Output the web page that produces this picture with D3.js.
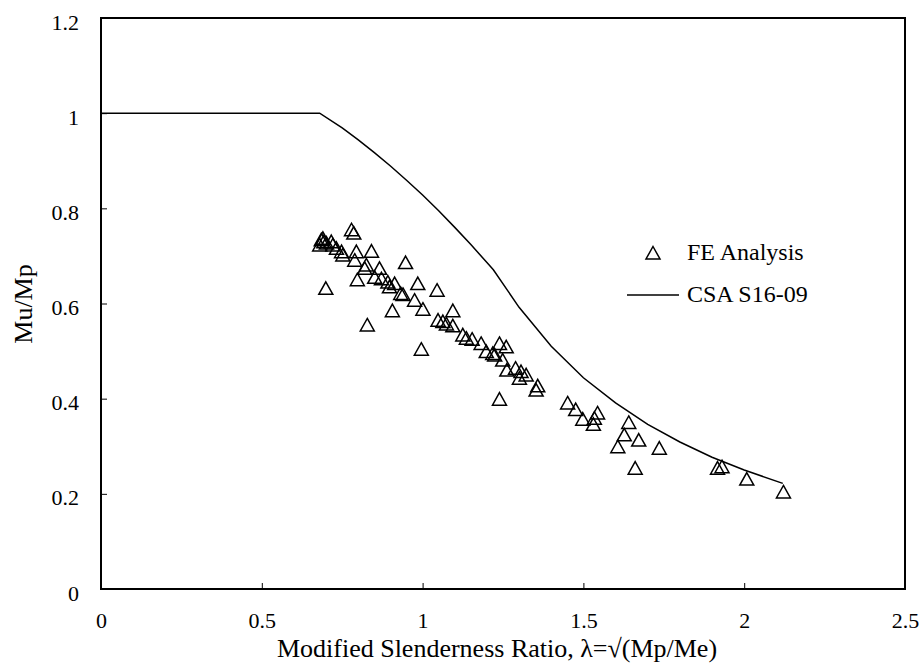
<!DOCTYPE html>
<html>
<head>
<meta charset="utf-8">
<script src="https://cdn.jsdelivr.net/npm/d3@7"></script>
<style>
  body { margin: 0; background: #fff; }
  svg { display: block; }
  text { font-family: "Liberation Serif", "Times New Roman", serif; fill: #000; }
</style>
</head>
<body>
<div id="chart"></div>
<script>
// FE analysis results (lambda, Mu/Mp)
var feLambda = [0.680, 0.685, 0.690, 0.693, 0.701, 0.716, 0.721, 0.732, 0.748, 0.752,
                0.699, 0.779, 0.786, 0.794, 0.841, 0.789, 0.825, 0.820, 0.866, 0.797,
                0.851, 0.872, 0.892, 0.897, 0.913, 0.947, 0.985, 1.045, 0.932, 0.939,
                0.975, 1.001, 0.906, 1.094, 1.048, 1.063, 1.074, 1.094, 0.828, 0.996,
                1.125, 1.136, 1.154, 1.182, 1.239, 1.260, 1.198, 1.218, 1.224, 1.249,
                1.262, 1.289, 1.306, 1.322, 1.301, 1.358, 1.353, 1.239, 1.451, 1.476,
                1.498, 1.544, 1.534, 1.531, 1.641, 1.627, 1.607, 1.672, 1.736, 1.661,
                1.917, 1.931, 2.008, 2.122];
var feMu     = [0.723, 0.734, 0.737, 0.730, 0.727, 0.730, 0.723, 0.716, 0.709, 0.702,
                0.632, 0.755, 0.748, 0.709, 0.710, 0.691, 0.681, 0.674, 0.674, 0.650,
                0.655, 0.652, 0.645, 0.635, 0.642, 0.686, 0.642, 0.628, 0.621, 0.619,
                0.607, 0.588, 0.585, 0.585, 0.565, 0.562, 0.557, 0.553, 0.555, 0.504,
                0.534, 0.527, 0.525, 0.516, 0.516, 0.509, 0.499, 0.495, 0.492, 0.481,
                0.460, 0.464, 0.457, 0.450, 0.443, 0.427, 0.418, 0.399, 0.391, 0.377,
                0.357, 0.370, 0.359, 0.346, 0.350, 0.324, 0.299, 0.313, 0.296, 0.254,
                0.254, 0.257, 0.231, 0.204];

// CSA S16-09 design curve
var csaLambda = [0, 0.68, 0.75, 0.80, 0.85, 0.90, 0.95, 1.00, 1.05, 1.10, 1.15, 1.20,
                 1.22, 1.30, 1.40, 1.50, 1.60, 1.70, 1.80, 1.90, 2.00, 2.12];
var csaMu     = [1, 1, 0.969, 0.944, 0.917, 0.889, 0.859, 0.828, 0.795, 0.760, 0.724, 0.686,
                 0.671, 0.592, 0.510, 0.444, 0.391, 0.346, 0.309, 0.277, 0.250, 0.222];

var xTicks = [0, 0.5, 1, 1.5, 2, 2.5];
var yTicks = [0, 0.2, 0.4, 0.6, 0.8, 1, 1.2];
var legendNames = ["FE Analysis", "CSA S16-09"];

var W = 924, H = 664;
var margin = {top: 18, right: 19, bottom: 75, left: 101};
var width = W - margin.left - margin.right;
var height = H - margin.top - margin.bottom;

var svg = d3.select("#chart").append("svg")
    .attr("width", W)
    .attr("height", H)
  .append("g")
    .attr("transform", "translate(" + margin.left + "," + margin.top + ")");

var x = d3.scaleLinear().domain([0, 2.5]).range([0, width]);
var y = d3.scaleLinear().domain([0, 1.2]).range([height, 0]);

// axes (ticks point inward)
var xAxis = d3.axisBottom(x).tickValues(xTicks).tickSize(-6).tickPadding(23)
    .tickFormat(function(d) { return d3.format("")(d); });
var yAxis = d3.axisLeft(y).tickValues(yTicks).tickSize(-6).tickPadding(22)
    .tickFormat(function(d) { return d3.format("")(+d.toFixed(1)); });

var gx = svg.append("g")
    .attr("transform", "translate(0," + height + ")")
    .call(xAxis);
var gy = svg.append("g").call(yAxis);

[gx, gy].forEach(function(g) {
  g.select(".domain").remove();
  g.selectAll(".tick line").attr("stroke", "#000").attr("stroke-width", 1);
  g.selectAll(".tick text")
    .style("font-family", "'Liberation Serif', 'Times New Roman', serif")
    .style("font-size", "22px")
    .attr("fill", "#000");
});
gy.selectAll(".tick text").attr("dy", "0.5em");

// plot frame
svg.append("rect")
    .attr("x", 0).attr("y", 0)
    .attr("width", width).attr("height", height)
    .attr("fill", "none")
    .attr("stroke", "#000")
    .attr("stroke-width", 2);

// CSA line
var line = d3.line()
    .x(function(d) { return x(d[0]); })
    .y(function(d) { return y(d[1]); });

svg.append("path")
    .datum(csaLambda.map(function(v, i) { return [v, csaMu[i]]; }))
    .attr("d", line)
    .attr("fill", "none")
    .attr("stroke", "#000")
    .attr("stroke-width", 1.5);

// triangle marker
var tri = "M0,-6.5L7,6L-7,6Z";

svg.append("g").selectAll("path")
    .data(feLambda.map(function(v, i) { return [v, feMu[i]]; }))
    .enter().append("path")
      .attr("d", tri)
      .attr("transform", function(d) { return "translate(" + x(d[0]) + "," + y(d[1]) + ")"; })
      .attr("fill", "none")
      .attr("stroke", "#000")
      .attr("stroke-width", 1.5);

// legend
var legend = svg.append("g")
    .attr("transform", "translate(" + (653 - margin.left) + "," + (253 - margin.top) + ")");

legend.append("path")
    .attr("d", tri)
    .attr("fill", "none")
    .attr("stroke", "#000")
    .attr("stroke-width", 1.5);
legend.append("text")
    .attr("x", 34).attr("y", 7)
    .style("font-size", "24px")
    .text(legendNames[0]);

legend.append("line")
    .attr("x1", -26).attr("x2", 26)
    .attr("y1", 42).attr("y2", 42)
    .attr("stroke", "#000")
    .attr("stroke-width", 1.5);
legend.append("text")
    .attr("x", 34).attr("y", 49)
    .style("font-size", "24px")
    .text(legendNames[1]);

// axis titles
svg.append("text")
    .attr("x", 497 - margin.left)
    .attr("y", 657 - margin.top)
    .attr("text-anchor", "middle")
    .style("font-size", "26px")
    .text("Modified Slenderness Ratio, \u03bb=\u221a(Mp/Me)");

svg.append("text")
    .attr("transform", "translate(" + (32 - margin.left) + "," + (304 - margin.top) + ") rotate(-90)")
    .attr("text-anchor", "middle")
    .style("font-size", "26px")
    .text("Mu/Mp");
</script>
</body>
</html>
